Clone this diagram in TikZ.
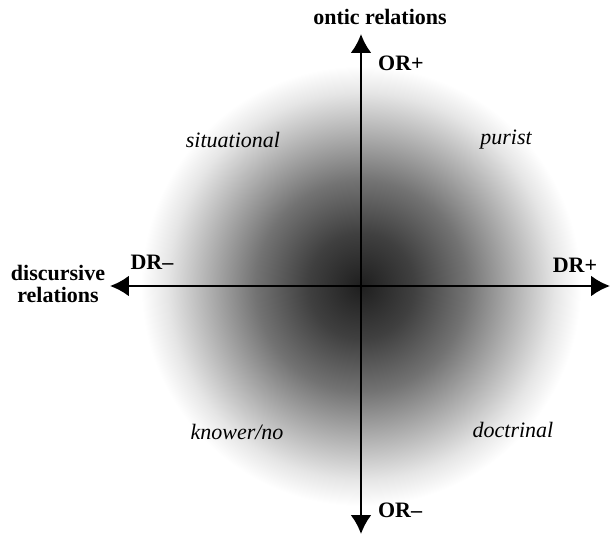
\documentclass[tikz,border=0pt]{standalone}
\usepackage{fontspec}
\setmainfont{Liberation Serif}
\usetikzlibrary{arrows.meta}
\pgfdeclareradialshading{glow}{\pgfpoint{0bp}{0bp}}{color(0bp)=(black!88); color(6bp)=(black!75); color(12bp)=(black!55); color(18bp)=(black!28); color(22bp)=(black!10); color(25bp)=(white); color(50bp)=(white)}

\begin{document}
\begin{tikzpicture}[x=0.5pt,y=0.5pt]
\tikzset{axis/.style={line width=1.3pt,-{Latex[length=9.5pt,width=10.5pt]}},
         pole/.style={font=\fontsize{11}{11}\selectfont\bfseries},
         quad/.style={font=\fontsize{11}{11}\selectfont\itshape}}
\useasboundingbox (-361,-250) rectangle (249,286);
\shade[shading=glow] (0,0) circle (220);
\coordinate (O) at (0,0) {};
\coordinate (T) at (0,252) {};
\coordinate (B) at (0,-248) {};
\coordinate (L) at (-251,0) {};
\coordinate (R) at (249,0) {};
\draw[axis] (O) -- (T);
\draw[axis] (O) -- (B);
\draw[axis] (O) -- (L);
\draw[axis] (O) -- (R);
\node[pole] (ontic) at (19,269) {ontic relations};
\node[pole, align=center] (discursive) at (-303,2) {discursive\\relations};
\foreach \x/\y/\A [count=\xi] in {40/223/OR+, 39/-224/OR--, -209/24/DR--, 214/21/DR+}
  \node[pole] (pole\xi) at (\x,\y) {\A};
\foreach \x/\y/\A [count=\xi] in {-128/146/situational, 145/146/purist, -124/-146/{knower/no}, 152/-144/doctrinal}
  \node[quad] (quad\xi) at (\x,\y) {\A};
\end{tikzpicture}
\end{document}
